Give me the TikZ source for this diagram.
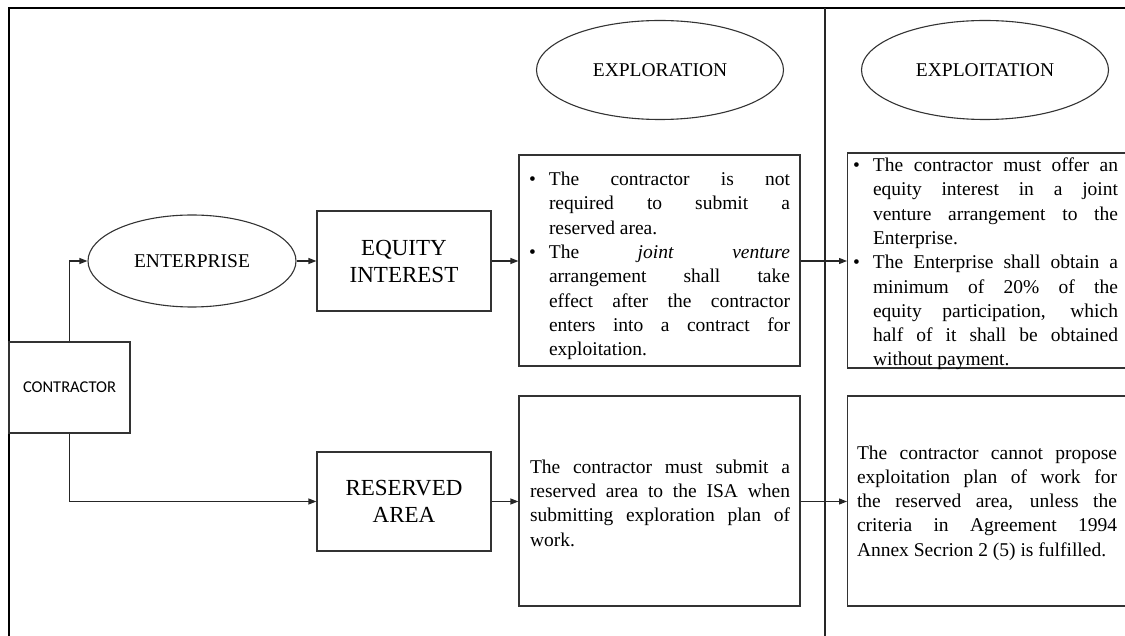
\documentclass[tikz,border=0pt]{standalone}
\usepackage{fontspec}
\setmainfont{Liberation Serif}
\newfontfamily\calib{Carlito}
\usetikzlibrary{shapes.geometric,arrows.meta}
\newlength\tw
\newcommand\jl[1]{\makebox[\tw][s]{#1}}
\newcommand\bul{\llap{\textbullet\hspace{13pt}}}
\begin{document}
\begin{tikzpicture}[x=1pt,y=-1pt,
  box/.style={draw=black!80, line width=1.1pt, rectangle, inner sep=0pt},
  oval/.style={draw=black!80, line width=1.1pt, ellipse, inner sep=0pt,
    minimum width=247pt, minimum height=99pt, font=\fontsize{19.5}{23}\selectfont},
  arr/.style={draw=black!85, line width=1.1pt, -{Triangle[length=8pt,width=6pt]}},
  body/.style={inner sep=0pt, align=left, font=\fontsize{19.5}{24.3}\selectfont, tw/.code={\setlength\tw{##1}}},
  big/.style={font=\fontsize{23}{27}\selectfont, align=center},
  frame/.style={draw=black, line width=2.5pt},
  divider/.style={draw=black!85, line width=1.2pt}
]
\useasboundingbox (0,0) rectangle (1125,636);
\begin{scope}
\clip (0,0) rectangle (1125,636);
\draw[frame] (9,636) -- (9,8) -- (1126,8);
\draw[divider] (825,8) -- (825,636);

\node[oval] (explor) at (660,70) {EXPLORATION};
\node[oval] (exploit) at (985,70) {EXPLOITATION};
\node[oval, minimum width=208pt, minimum height=92pt] (ent) at (192,261) {ENTERPRISE};
\node[box, minimum width=174pt, minimum height=100pt, big] (eq) at (404,261) {EQUITY\\INTEREST};
\node[box, minimum width=174pt, minimum height=99pt, big] (ra) at (404,501.5) {RESERVED\\AREA};
\node[box, minimum width=121pt, minimum height=91pt, font=\calib\fontsize{16.5}{20}\selectfont] (con) at (69.5,387.5) {CONTRACTOR};
\node[box, minimum width=281pt, minimum height=211pt] (b1) at (659.5,260.5) {};
\node[box, minimum width=300pt, minimum height=215pt, anchor=west] (b2) at (847,260.5) {};
\node[box, minimum width=281pt, minimum height=210pt] (c1) at (659.5,501) {};
\node[box, minimum width=300pt, minimum height=210pt, anchor=west] (c2) at (847,501) {};

\node[body, tw=241pt] (t1) at (669.5,266) {%
\bul\jl{The contractor is not}\\
\jl{required to submit a}\\
reserved area.\\
\bul\jl{The \textit{joint} \textit{venture}}\\
\jl{arrangement shall take}\\
\jl{effect after the contractor}\\
\jl{enters into a contract for}\\
exploitation.};

\node[body, tw=245pt] (t2) at (995.5,264) {%
\bul\jl{The contractor must offer an}\\
\jl{equity interest in a joint}\\
\jl{venture arrangement to the}\\
Enterprise.\\
\bul\jl{The Enterprise shall obtain a}\\
\jl{minimum of 20\% of the}\\
\jl{equity participation, which}\\
\jl{half of it shall be obtained}\\
without payment.};

\node[body, tw=260pt] (t3) at (660,503) {%
\jl{The contractor must submit a}\\
\jl{reserved area to the ISA when}\\
\jl{submitting exploration plan of}\\
work.};

\node[body, tw=260pt] (t4) at (987,503) {%
\jl{The contractor cannot propose}\\
\jl{exploitation plan of work for}\\
\jl{the reserved area, unless the}\\
\jl{criteria in Agreement 1994}\\
Annex Secrion 2 (5) is fulfilled.};

\draw[arr] (con.north) |- (ent.west);
\draw[arr] (ent.east) -- (eq.west);
\draw[arr] (eq.east) -- (eq.east -| b1.west);
\draw[arr] (b1.east |- eq.east) -- (b2.west |- eq.east);
\draw[arr] (con.south) |- (ra.west);
\draw[arr] (ra.east) -- (ra.east -| c1.west);
\draw[arr] (c1.east |- ra.east) -- (c2.west |- ra.east);
\end{scope}
\end{tikzpicture}
\end{document}
